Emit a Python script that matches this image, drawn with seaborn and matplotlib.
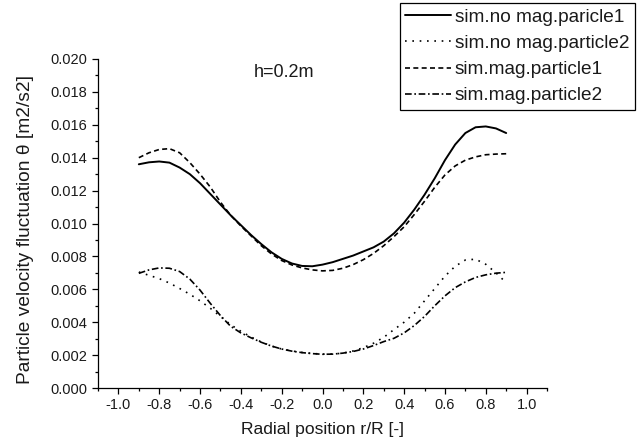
import matplotlib
matplotlib.use("Agg")
import matplotlib.pyplot as plt
from matplotlib.ticker import MultipleLocator, FixedLocator, FixedFormatter
import numpy as np
import pandas as pd
import seaborn as sns

# Radial positions r/R
r_pos = [-0.90, -0.85, -0.80, -0.75, -0.70, -0.65, -0.60, -0.55, -0.50, -0.45,
         -0.40, -0.35, -0.30, -0.25, -0.20, -0.15, -0.10, -0.05, 0.00, 0.05,
         0.10, 0.15, 0.20, 0.25, 0.30, 0.35, 0.40, 0.45, 0.50, 0.55,
         0.60, 0.65, 0.70, 0.75, 0.80, 0.85, 0.90]

# Particle velocity fluctuation, no magnetic field, particle 1
nomag_p1 = [0.01360, 0.01372, 0.01377, 0.01370, 0.01340, 0.01300, 0.01245, 0.01180, 0.01115, 0.01050,
            0.00990, 0.00930, 0.00875, 0.00825, 0.00785, 0.00757, 0.00742, 0.00740, 0.00750, 0.00765,
            0.00785, 0.00805, 0.00830, 0.00855, 0.00890, 0.00940, 0.01005, 0.01085, 0.01175, 0.01275,
            0.01385, 0.01480, 0.01550, 0.01585, 0.01590, 0.01578, 0.01550]

# No magnetic field, particle 2
nomag_p2 = [0.00705, 0.00685, 0.00665, 0.00638, 0.00605, 0.00570, 0.00530, 0.00485, 0.00435, 0.00385,
            0.00345, 0.00310, 0.00280, 0.00255, 0.00237, 0.00225, 0.00216, 0.00210, 0.00206, 0.00206,
            0.00212, 0.00225, 0.00245, 0.00272, 0.00308, 0.00355, 0.00400, 0.00455, 0.00530, 0.00605,
            0.00680, 0.00740, 0.00778, 0.00783, 0.00752, 0.00700, 0.00640]

# With magnetic field, particle 1
mag_p1 = [0.01400, 0.01430, 0.01450, 0.01455, 0.01430, 0.01370, 0.01300, 0.01222, 0.01130, 0.01050,
          0.00985, 0.00925, 0.00865, 0.00815, 0.00775, 0.00748, 0.00730, 0.00718, 0.00712, 0.00715,
          0.00728, 0.00750, 0.00780, 0.00818, 0.00865, 0.00920, 0.00980, 0.01055, 0.01135, 0.01220,
          0.01295, 0.01350, 0.01385, 0.01405, 0.01418, 0.01422, 0.01424]

# With magnetic field, particle 2
mag_p2 = [0.00697, 0.00718, 0.00730, 0.00728, 0.00708, 0.00662, 0.00595, 0.00515, 0.00440, 0.00375,
          0.00335, 0.00305, 0.00278, 0.00255, 0.00237, 0.00224, 0.00215, 0.00209, 0.00205, 0.00206,
          0.00212, 0.00222, 0.00237, 0.00258, 0.00282, 0.00302, 0.00335, 0.00380, 0.00435, 0.00500,
          0.00560, 0.00610, 0.00645, 0.00672, 0.00688, 0.00698, 0.00703]

series_labels = ["sim.no mag.paricle1", "sim.no mag.particle2",
                 "sim.mag.particle1", "sim.mag.particle2"]

x_ticks = [-1.0, -0.8, -0.6, -0.4, -0.2, 0.0, 0.2, 0.4, 0.6, 0.8, 1.0]
x_tick_labels = ["-1.0", "-0.8", "-0.6", "-0.4", "-0.2", "0.0", "0.2", "0.4", "0.6", "0.8", "1.0"]
y_ticks = [0.000, 0.002, 0.004, 0.006, 0.008, 0.010, 0.012, 0.014, 0.016, 0.018, 0.020]
y_tick_labels = ["0.000", "0.002", "0.004", "0.006", "0.008", "0.010",
                 "0.012", "0.014", "0.016", "0.018", "0.020"]

sns.set_style("ticks")
plt.rcParams["font.family"] = ["Liberation Sans", "DejaVu Sans"]
plt.rcParams["axes.unicode_minus"] = False

fig = plt.figure(figsize=(6.38, 4.46), dpi=100)
ax = fig.add_axes([98 / 638, 1 - 388 / 446, (547 - 98) / 638, (388 - 59) / 446])

line_styles = [
    dict(linestyle="-", linewidth=1.4),
    dict(linestyle=(0, (1.0, 3.4)), linewidth=1.2),
    dict(linestyle=(0, (3.0, 2.0)), linewidth=1.2),
    dict(linestyle=(0, (4.0, 1.6, 1.0, 1.6)), linewidth=1.2),
]
values = [nomag_p1, nomag_p2, mag_p1, mag_p2]

for vals, lab, st in zip(values, series_labels, line_styles):
    df = pd.DataFrame({"r": r_pos, "theta": vals})
    sns.lineplot(data=df, x="r", y="theta", ax=ax, color="black",
                 label=lab, sort=False, estimator=None, **st)

ax.set_xlim(-1.1, 1.1)
ax.set_ylim(0.0, 0.020)

ax.xaxis.set_major_locator(FixedLocator(x_ticks))
ax.xaxis.set_major_formatter(FixedFormatter(x_tick_labels))
ax.xaxis.set_minor_locator(MultipleLocator(0.1))
ax.yaxis.set_major_locator(FixedLocator(y_ticks))
ax.yaxis.set_major_formatter(FixedFormatter(y_tick_labels))
ax.yaxis.set_minor_locator(MultipleLocator(0.001))

ax.tick_params(axis="both", which="major", direction="out", length=4.5, width=0.9,
               labelsize=10.5, pad=3, color="black", labelcolor="#1a1a1a")
ax.tick_params(axis="both", which="minor", direction="out", length=2.5, width=0.9,
               color="black")

sns.despine(ax=ax)
for side in ("left", "bottom"):
    ax.spines[side].set_linewidth(0.9)
    ax.spines[side].set_color("black")

ax.set_xlabel("Radial position r/R [-]", fontsize=12.6, labelpad=7, color="#1a1a1a")
ax.set_ylabel("Particle velocity fluctuation \u03b8 [m2/s2]", fontsize=13.8,
              color="#1a1a1a")
ax.yaxis.set_label_coords(-0.1425, 0.482)

ax.text(-0.19, 0.0192, "h=0.2m", fontsize=13, ha="center", va="center", color="#1a1a1a")

handles, labels = ax.get_legend_handles_labels()
ax.get_legend().remove()
leg = fig.legend(handles, labels, loc="upper right",
                 bbox_to_anchor=(635 / 638, 1 - 3 / 446),
                 fontsize=13.7, frameon=True, fancybox=False, edgecolor="black",
                 framealpha=1.0, handlelength=2.4, handletextpad=0.2,
                 labelspacing=0.46, borderpad=0.3, borderaxespad=0.0)
leg.get_frame().set_linewidth(0.9)
for t in leg.get_texts():
    t.set_color("#1a1a1a")

fig.savefig("out.png", dpi=100)
